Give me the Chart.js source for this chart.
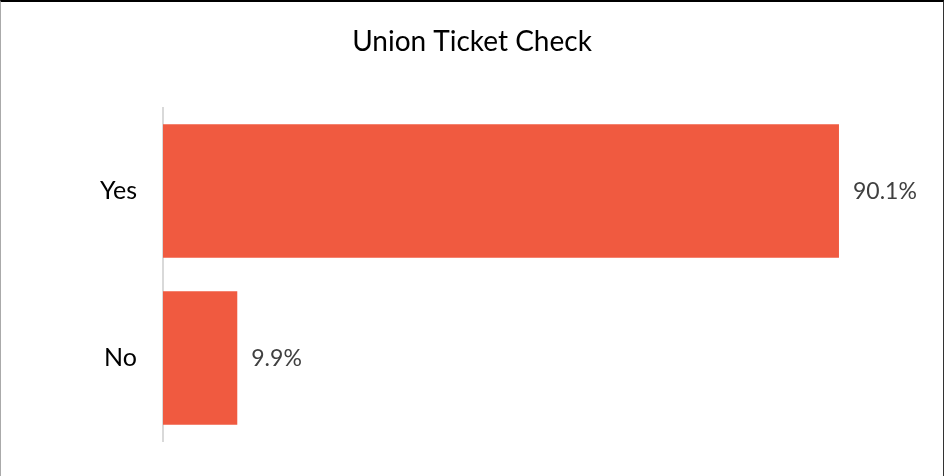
<!DOCTYPE html>
<html>
<head>
<meta charset="utf-8">
<script src="https://cdn.jsdelivr.net/npm/chart.js@4"></script>
<style>
  html, body { margin: 0; padding: 0; background: #fff; }
  #wrap { position: relative; width: 944px; height: 476px; }
  #frame { position: absolute; left: 0; top: 0; width: 944px; height: 476px; box-sizing: border-box;
           border-top: 2px solid #000; border-left: 1px solid #aaa; border-right: 1px solid #333; pointer-events: none; }
</style>
</head>
<body>
<div id="wrap">
  <canvas id="c" width="944" height="476"></canvas>
  <div id="frame"></div>
</div>
<script>
const titleText = "Union Ticket Check";
const categories = ["Yes", "No"];
const values = [90.1, 9.9];
const valueLabels = ["90.1%", "9.9%"];

const FONT = "Lato, 'Open Sans', sans-serif";

const labelPlugin = {
  id: 'valueLabels',
  afterDatasetsDraw(chart) {
    const ctx = chart.ctx;
    const meta = chart.getDatasetMeta(0);
    ctx.save();
    ctx.font = "23px " + FONT;
    ctx.fillStyle = "#404040";
    ctx.textAlign = "left";
    ctx.textBaseline = "middle";
    meta.data.forEach((bar, i) => {
      ctx.fillText(valueLabels[i], bar.x + 14, bar.y + 1);
    });
    ctx.restore();
  }
};

new Chart(document.getElementById('c'), {
  type: 'bar',
  data: {
    labels: categories,
    datasets: [{
      data: values,
      backgroundColor: '#F05A40',
      borderWidth: 0,
      categoryPercentage: 0.80,
      barPercentage: 1.0
    }]
  },
  options: {
    indexAxis: 'y',
    responsive: false,
    animation: false,
    layout: { padding: { left: 0, right: 0, top: 0, bottom: 34.5 } },
    plugins: {
      legend: { display: false },
      tooltip: { enabled: false },
      title: {
        display: true,
        text: titleText,
        color: '#000',
        font: { family: FONT, size: 28, weight: 'normal' },
        padding: { top: 25, bottom: 48.9 }
      }
    },
    scales: {
      x: {
        display: false,
        min: 0,
        max: 104.1
      },
      y: {
        afterFit(scale) {
          scale.width = 163;
          scale.paddingTop = 0;
          scale.paddingBottom = 0;
        },
        grid: { display: false, drawTicks: false },
        border: { display: true, color: '#d9d9d9', width: 2 },
        ticks: {
          color: '#000',
          font: { family: FONT, size: 25 },
          padding: 26
        }
      }
    }
  },
  plugins: [labelPlugin]
});
</script>
</body>
</html>
